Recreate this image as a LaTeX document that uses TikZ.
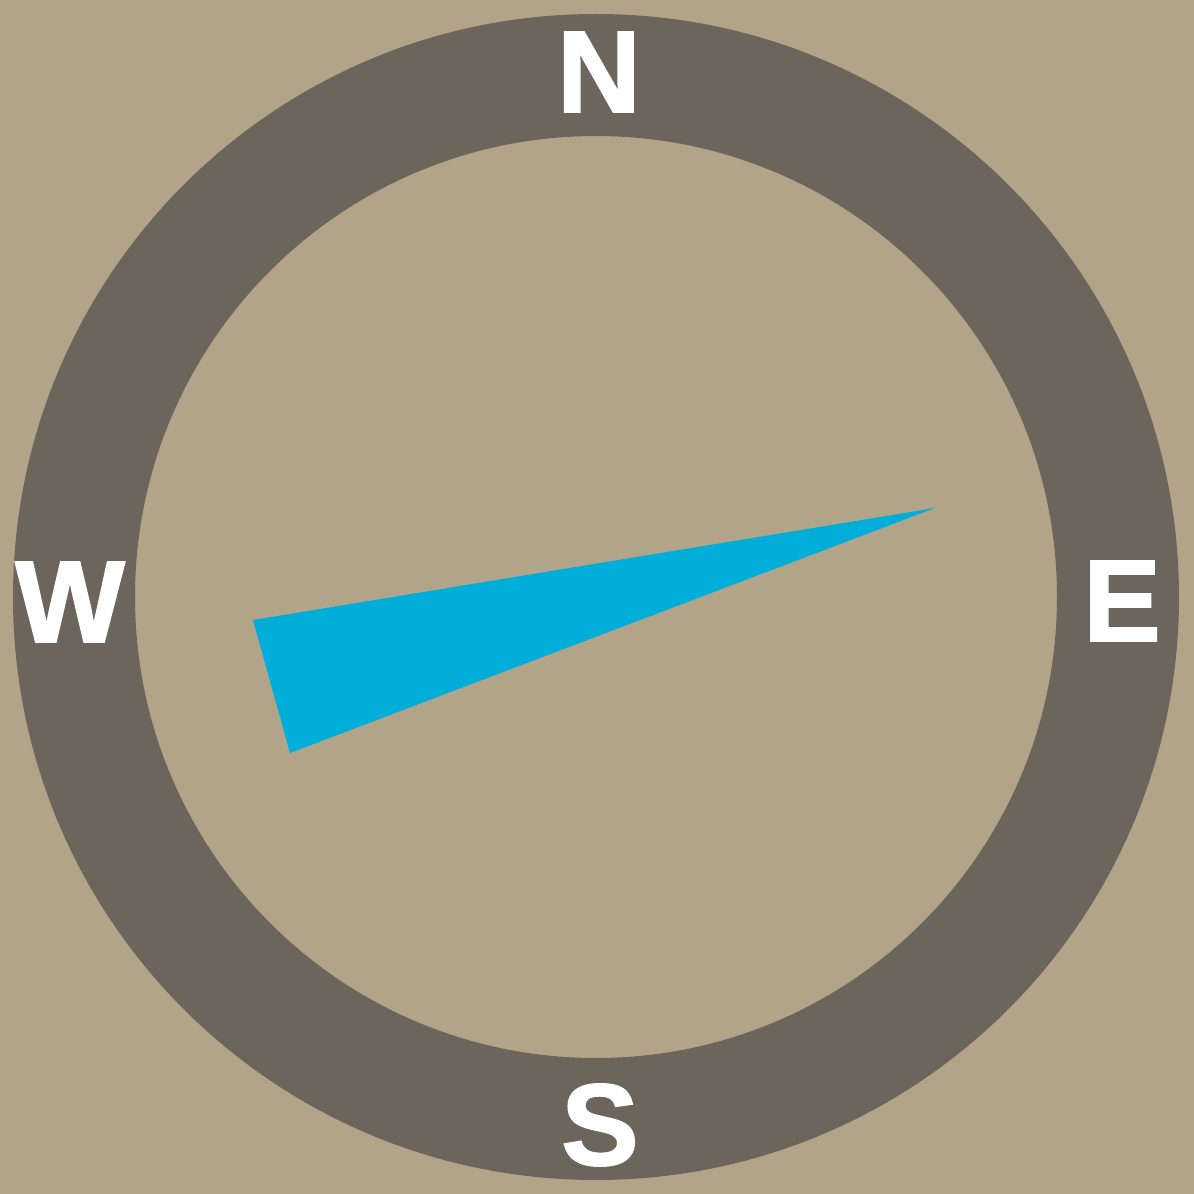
\documentclass[tikz,border=0pt]{standalone}
\usepackage{fontspec}
\newfontfamily\compassfont[FakeBold=1.6]{Liberation Sans Bold}
\usepackage{xcolor}
\usepackage{tikz}
\usetikzlibrary{
    positioning
}

\definecolor{sand}{RGB}{178,164,136}
\definecolor{ringgrey}{RGB}{108,101,92}
\definecolor{needleblue}{RGB}{0,174,217}

\begin{document}
\begin{tikzpicture}[
        point/.style={text=white, inner sep=0pt, font=\compassfont\fontsize{33}{33}\selectfont},
        needle/.style={fill=needleblue, draw=none}
      ]

      \fill[sand] (0,0) rectangle (11.94,11.94);
      \useasboundingbox (0,0) rectangle (11.94,11.94);

      \coordinate (centre) at (5.96,5.97);
      \fill[ringgrey, even odd rule] (centre) circle (5.83) (centre) circle (4.61);

      \node[point] (north) at (5.99,11.22) {N};
      \node[point] (east) at (11.22,5.93) {E};
      \node[point] (south) at (6.00,0.69) {S};
      \node[point] (west) at (0.70,5.92) {W};

      \coordinate (tip) at (9.35,6.86);
      \coordinate (tailtop) at (2.53,5.74);
      \coordinate (tailbottom) at (2.90,4.41);
      \fill[needle] (tip) -- (tailtop) -- (tailbottom) -- cycle;
    \end{tikzpicture}
\end{document}
